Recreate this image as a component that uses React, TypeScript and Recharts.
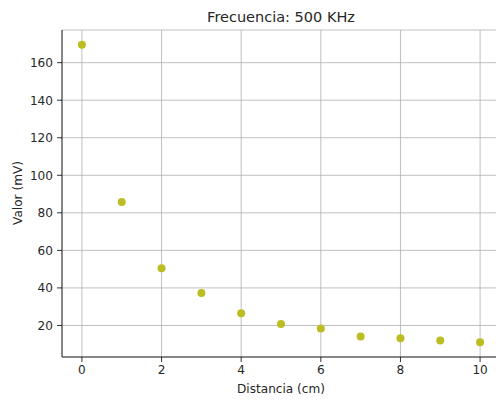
import { ScatterChart, Scatter, XAxis, YAxis, CartesianGrid } from "recharts";

const distancia = [0, 1, 2, 3, 4, 5, 6, 7, 8, 9, 10];
const valor = [169.5, 85.8, 50.5, 37.3, 26.5, 20.8, 18.4, 14.1, 13.2, 12.0, 11.1];
const xTicks = [0, 2, 4, 6, 8, 10];
const yTicks = [20, 40, 60, 80, 100, 120, 140, 160];

const data = distancia.map((x, i) => ({ x, y: valor[i] }));

const FONT = "'DejaVu Sans', sans-serif";
const tickStyle = { fill: "#262626", fontSize: 12.1, fontFamily: FONT };

export default function App() {
  return (
    <div
      style={{
        position: "absolute",
        left: 0,
        top: 0,
        width: 496,
        height: 401,
        overflow: "hidden",
        background: "#fff",
        fontFamily: FONT,
      }}
    >
      <div
        style={{
          position: "absolute",
          left: 62,
          width: 438,
          top: 8,
          textAlign: "center",
          fontSize: 14.5,
          lineHeight: "18px",
          color: "#262626",
        }}
      >
        Frecuencia: 500 KHz
      </div>
      <div
        style={{
          position: "absolute",
          left: 62,
          width: 438,
          top: 380,
          textAlign: "center",
          fontSize: 12.1,
          lineHeight: "18px",
          color: "#262626",
        }}
      >
        Distancia (cm)
      </div>
      <div
        style={{
          position: "absolute",
          left: 18,
          top: 193,
          transform: "translate(-50%, -50%) rotate(-90deg)",
          whiteSpace: "nowrap",
          fontSize: 12.1,
          color: "#262626",
        }}
      >
        Valor (mV)
      </div>
      <ScatterChart
        width={510}
        height={401}
        margin={{ top: 30, right: 10, bottom: 14, left: 0 }}
        style={{ position: "absolute", left: 0, top: 0 }}
      >
        <CartesianGrid stroke="#b0b0b0" strokeWidth={0.8} />
        <XAxis
          type="number"
          dataKey="x"
          domain={[-0.5, 10.5]}
          ticks={xTicks}
          height={30}
          tick={tickStyle}
          tickSize={5}
          tickMargin={3}
          axisLine={{ stroke: "#000", strokeWidth: 0.8 }}
          tickLine={{ stroke: "#000", strokeWidth: 0.8 }}
        />
        <XAxis
          xAxisId="top"
          orientation="top"
          type="number"
          dataKey="x"
          domain={[-0.5, 10.5]}
          height={0}
          tick={false}
          tickLine={false}
          axisLine={{ stroke: "#000", strokeWidth: 0.8 }}
        />
        <YAxis
          type="number"
          dataKey="y"
          domain={[3.2, 177.4]}
          ticks={yTicks}
          width={62}
          tick={tickStyle}
          tickSize={5}
          tickMargin={4}
          axisLine={{ stroke: "#000", strokeWidth: 0.8 }}
          tickLine={{ stroke: "#000", strokeWidth: 0.8 }}
        />
        <Scatter
          data={data}
          fill="#bcbd22"
          isAnimationActive={false}
          shape={(p: any) => <circle cx={p.cx} cy={p.cy} r={4} fill="#bcbd22" />}
        />
      </ScatterChart>
    </div>
  );
}
